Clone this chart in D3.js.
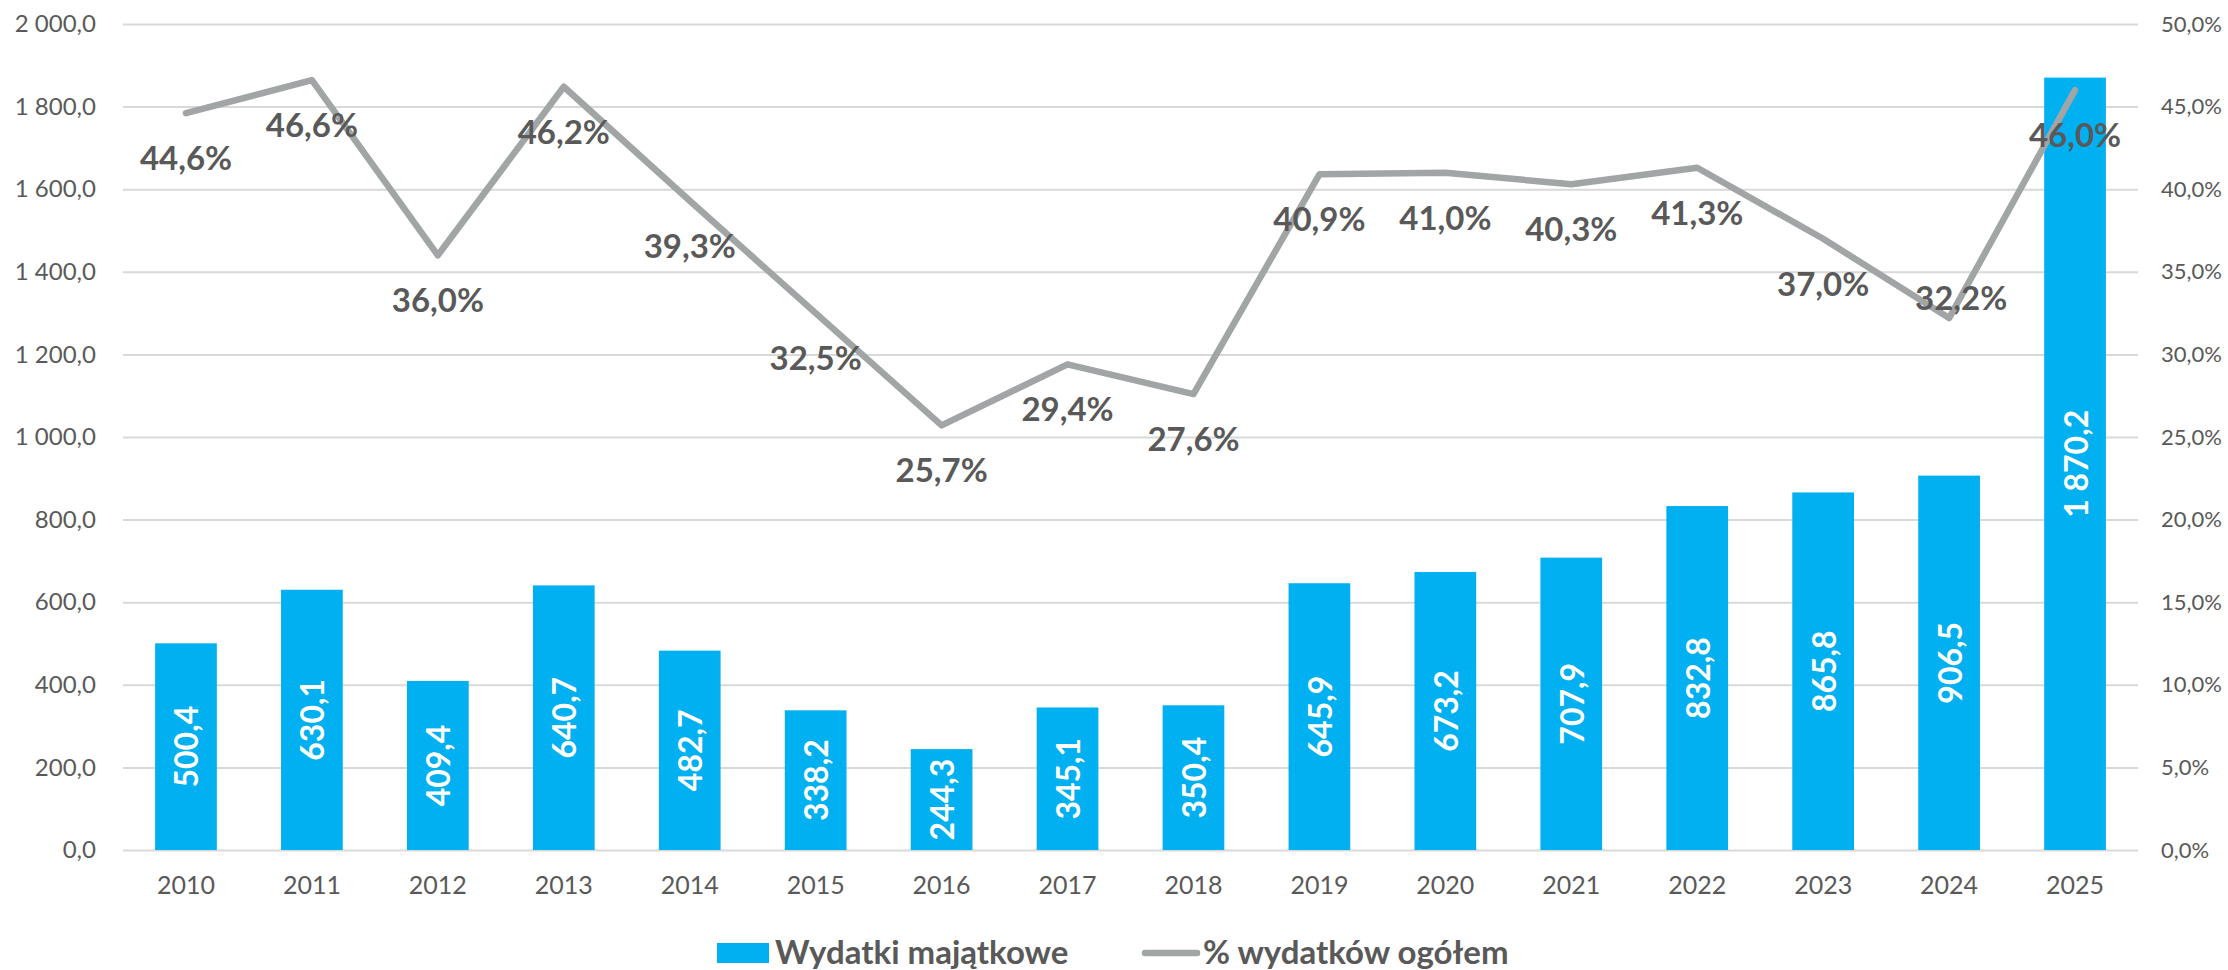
<!DOCTYPE html>
<html>
<head>
<meta charset="utf-8">
<script src="https://cdn.jsdelivr.net/npm/d3@7"></script>
<style>
  html, body { margin: 0; padding: 0; background: #ffffff; }
  svg { display: block; font-family: Lato, "Open Sans", "Liberation Sans", sans-serif; }
</style>
</head>
<body>
<svg id="chart" width="2228" height="970"></svg>
<script>
// ---- data ----
const years = ["2010","2011","2012","2013","2014","2015","2016","2017","2018","2019","2020","2021","2022","2023","2024","2025"];
const wydatkiMajatkowe = [500.4, 630.1, 409.4, 640.7, 482.7, 338.2, 244.3, 345.1, 350.4, 645.9, 673.2, 707.9, 832.8, 865.8, 906.5, 1870.2];
const procentWydatkow = [44.6, 46.6, 36.0, 46.2, 39.3, 32.5, 25.7, 29.4, 27.6, 40.9, 41.0, 40.3, 41.3, 37.0, 32.2, 46.0];
const leftTicks = [0, 200, 400, 600, 800, 1000, 1200, 1400, 1600, 1800, 2000];
const rightTicks = [0, 5, 10, 15, 20, 25, 30, 35, 40, 45, 50];
const seriesNames = ["Wydatki majątkowe", "% wydatków ogółem"];

// ---- style / layout ----
const barColor = "#00B0F0";
const lineColor = "#A2A5A5";
const textColor = "#595959";
const gridColor = "#D9D9D9";
const plot = { left: 123, right: 2138, top: 24, bottom: 850 };
// manual nudge for one line label (as in reference)
const labelNudge = { "2024": { dx: 12, dy: -65 } };

const loc = d3.formatLocale({ decimal: ",", thousands: " ", grouping: [3], currency: ["", ""] });
const fmtNum = loc.format(",.1f");
const fmtPct = v => loc.format(".1f")(v) + "%";

const svg = d3.select("#chart");

const x = d3.scaleBand().domain(years).range([plot.left, plot.right]).paddingInner(0).paddingOuter(0);
const y = d3.scaleLinear().domain([0, 2000]).range([plot.bottom, plot.top]);
const y2 = d3.scaleLinear().domain([0, 50]).range([plot.bottom, plot.top]);

// gridlines
svg.append("g")
  .attr("transform", `translate(${plot.left},0)`)
  .call(d3.axisLeft(y).tickValues(leftTicks).tickSize(-(plot.right - plot.left)).tickFormat(""))
  .call(g => g.select(".domain").remove())
  .call(g => g.selectAll("line").attr("stroke", gridColor).attr("stroke-width", 2));

// left axis labels
svg.append("g")
  .attr("transform", `translate(${plot.left - 27},0)`)
  .call(d3.axisLeft(y).tickValues(leftTicks).tickSize(0).tickFormat(fmtNum))
  .call(g => g.select(".domain").remove())
  .call(g => g.selectAll("text").attr("x", 0).attr("fill", textColor)
    .style("font-size", "24px").style("font-family", "Lato, sans-serif"));

// right axis labels
svg.append("g")
  .attr("transform", `translate(${plot.right + 23},0)`)
  .call(d3.axisRight(y2).tickValues(rightTicks).tickSize(0).tickFormat(fmtPct))
  .call(g => g.select(".domain").remove())
  .call(g => g.selectAll("text").attr("x", 0).attr("fill", textColor)
    .style("font-size", "22px").style("font-family", "Lato, sans-serif"));

// x axis labels
svg.append("g")
  .attr("transform", `translate(0,${plot.bottom + 26})`)
  .call(d3.axisBottom(x).tickSize(0).tickFormat(d => d))
  .call(g => g.select(".domain").remove())
  .call(g => g.selectAll("text").attr("y", 0).attr("dy", "0.71em").attr("fill", textColor)
    .style("font-size", "25px").style("font-family", "Lato, sans-serif"));

// bars
const barW = x.bandwidth() * 0.49;
const bars = svg.append("g");
bars.selectAll("rect").data(years).join("rect")
  .attr("x", d => x(d) + (x.bandwidth() - barW) / 2)
  .attr("y", (d, i) => y(wydatkiMajatkowe[i]))
  .attr("width", barW)
  .attr("height", (d, i) => y(0) - y(wydatkiMajatkowe[i]))
  .attr("fill", barColor);

// bar labels (rotated, centered)
bars.selectAll("text").data(years).join("text")
  .attr("transform", (d, i) => {
    const cx = x(d) + x.bandwidth() / 2;
    const cy = (y(wydatkiMajatkowe[i]) + y(0)) / 2;
    return `translate(${cx},${cy}) rotate(-90)`;
  })
  .attr("text-anchor", "middle")
  .attr("dominant-baseline", "central")
  .attr("fill", "#ffffff")
  .style("font-size", "32px")
  .style("font-weight", "bold")
  .text((d, i) => fmtNum(wydatkiMajatkowe[i]));

// line
const line = d3.line()
  .x((d, i) => x(years[i]) + x.bandwidth() / 2)
  .y(d => y2(d));
svg.append("path")
  .datum(procentWydatkow)
  .attr("d", line)
  .attr("fill", "none")
  .attr("stroke", lineColor)
  .attr("stroke-width", 6.5)
  .attr("stroke-linecap", "round")
  .attr("stroke-linejoin", "round");

// line labels (below points)
svg.append("g").selectAll("text").data(years).join("text")
  .attr("x", (d, i) => x(d) + x.bandwidth() / 2 + (labelNudge[d] ? labelNudge[d].dx : 0))
  .attr("y", (d, i) => y2(procentWydatkow[i]) + 44 + (labelNudge[d] ? labelNudge[d].dy : 0))
  .attr("text-anchor", "middle")
  .attr("dominant-baseline", "central")
  .attr("fill", textColor)
  .style("font-size", "33px")
  .style("font-weight", "bold")
  .text((d, i) => fmtPct(procentWydatkow[i]));

// legend
const lg = svg.append("g");
lg.append("rect").attr("x", 717).attr("y", 943).attr("width", 52).attr("height", 20).attr("fill", barColor);
lg.append("text").attr("x", 775).attr("y", 964)
  .attr("fill", textColor).style("font-size", "33px").style("font-weight", "bold")
  .text(seriesNames[0]);
lg.append("line").attr("x1", 1145).attr("x2", 1197).attr("y1", 953).attr("y2", 953)
  .attr("stroke", lineColor).attr("stroke-width", 6.5).attr("stroke-linecap", "round");
lg.append("text").attr("x", 1203).attr("y", 964)
  .attr("fill", textColor).style("font-size", "33px").style("font-weight", "bold")
  .text(seriesNames[1]);
</script>
</body>
</html>
